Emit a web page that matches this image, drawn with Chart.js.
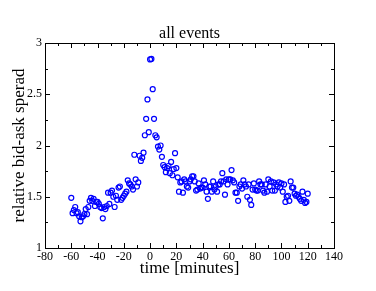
<!DOCTYPE html>
<html>
<head>
<meta charset="utf-8">
<script src="https://cdn.jsdelivr.net/npm/chart.js@4.4.1/dist/chart.umd.min.js"></script>
<style>
  html,body{margin:0;padding:0;background:#fff}
  #wrap{width:376px;height:291px}
</style>
</head>
<body>
<div id="wrap"><canvas id="ch" width="376" height="291"></canvas></div>
<script>
// ===================== DATA =====================
const TITLE='all events';
const X_LABEL='time [minutes]';
const Y_LABEL='relative bid-ask sperad';
const X_MIN=-80, X_MAX=140, X_STEP=20;
const Y_MIN=1, Y_MAX=3, Y_STEP=0.5;

// minutes relative to event
const minutes=[
  -60,-59,-58,-57,-56,-55,-54,-53,-52,-51,
  -50,-49,-48,-47,-46,-45,-44,-43,-42,-41,
  -40,-39,-38,-37,-36,-35,-34,-33,-32,-31,
  -30,-29,-28,-27,-26,-25,-24,-23,-22,-21,
  -20,-19,-18,-17,-16,-15,-14,-13,
  -12,-11,-10,-9,-8,-7,-6,-5,-4,-3,
  -2,-1,0,1,2,3,4,5,6,7,
  8,9,10,11,12,13,14,15,16,17,
  18,19,20,21,22,23,24,25,26,27,
  28,29,30,31,32,33,34,35,36,37,
  38,39,40,41,42,43,44,45,46,47,
  48,49,50,51,52,53,54,55,56,57,
  58,59,60,61,62,63,64,65,66,67,
  68,69,70,71,72,73,74,75,76,77,
  78,79,80,81,82,83,84,85,86,87,
  88,89,90,91,92,93,94,95,96,97,
  98,99,100,101,102,103,104,105,106,107,
  108,109,110,111,112,113,114,115,116,117,
  118,119,120
];
// relative spread
const spread=[
  1.49,1.34,1.37,1.40,1.34,1.35,1.31,1.26,1.30,1.31,
  1.33,1.38,1.33,1.40,1.46,1.49,1.46,1.48,1.41,1.45,
  1.45,1.43,1.40,1.39,1.29,1.40,1.38,1.41,1.54,1.43,
  1.54,1.56,1.50,1.40,1.51,1.47,1.59,1.60,1.47,1.49,
  1.51,1.53,1.55,1.66,1.63,1.62,1.60,1.57,
  1.91,1.67,1.60,1.64,1.90,1.85,1.88,1.93,2.10,2.26,
  2.45,2.13,2.84,2.845,2.55,2.26,2.10,2.08,1.99,1.96,
  2.00,1.89,1.81,1.79,1.74,1.78,1.80,1.73,1.84,1.71,
  1.77,1.925,1.78,1.69,1.55,1.64,1.65,1.54,1.67,1.65,
  1.60,1.59,1.65,1.67,1.70,1.70,1.65,1.56,1.57,1.63,
  1.58,1.59,1.59,1.66,1.62,1.55,1.48,1.60,1.60,1.55,
  1.65,1.57,1.60,1.55,1.62,1.62,1.65,1.73,1.65,1.52,
  1.67,1.62,1.67,1.67,1.76,1.66,1.64,1.54,1.54,1.46,
  1.60,1.62,1.58,1.66,1.62,1.60,1.50,1.62,1.47,1.42,
  1.57,1.63,1.57,1.56,1.56,1.65,1.62,1.62,1.56,1.54,
  1.62,1.55,1.67,1.60,1.65,1.56,1.64,1.56,1.62,1.60,
  1.64,1.59,1.63,1.55,1.62,1.45,1.50,1.51,1.46,1.65,
  1.59,1.59,1.53,1.51,1.52,1.50,1.48,1.46,1.55,1.47,
  1.44,1.45,1.53
];

// ===================== CHART =====================
const FONT='"Liberation Serif","Times New Roman",serif';
const pts=minutes.map((m,i)=>({x:m,y:spread[i]}));

// marco + ticks hacia adentro (estilo grace) + textos
const gracePlugin={
  id:'grace',
  afterDraw(c){
    const ctx=c.ctx, a=c.chartArea, sx=c.scales.x, sy=c.scales.y;
    ctx.save();
    ctx.strokeStyle='#000'; ctx.lineWidth=1;
    ctx.strokeRect(Math.round(a.left)+.5,Math.round(a.top)+.5,Math.round(a.right-a.left),Math.round(a.bottom-a.top));
    ctx.beginPath();
    for(let v=X_MIN;v<=X_MAX+1e-9;v+=X_STEP/2){
      const px=Math.round(sx.getPixelForValue(v))+.5;
      const L=(Math.abs((v-X_MIN)%X_STEP)<1e-9)?5:3;
      ctx.moveTo(px,a.bottom); ctx.lineTo(px,a.bottom-L);
      ctx.moveTo(px,a.top); ctx.lineTo(px,a.top+L);
    }
    for(let v=Y_MIN;v<=Y_MAX+1e-9;v+=Y_STEP/2){
      const py=Math.round(sy.getPixelForValue(v))+.5;
      const L=(Math.abs(((v-Y_MIN)/Y_STEP)-Math.round((v-Y_MIN)/Y_STEP))<1e-9)?5:3;
      ctx.moveTo(a.left,py); ctx.lineTo(a.left+L,py);
      ctx.moveTo(a.right,py); ctx.lineTo(a.right-L,py);
    }
    ctx.stroke();
    // titulos
    ctx.fillStyle='#000';
    const cx=(a.left+a.right)/2, cy=(a.top+a.bottom)/2;
    ctx.textAlign='center'; ctx.textBaseline='alphabetic';
    ctx.font='16px '+FONT;
    ctx.fillText(TITLE,cx,38);
    ctx.font='17px '+FONT;
    ctx.fillText(X_LABEL,cx,273);
    ctx.translate(24,cy); ctx.rotate(-Math.PI/2);
    ctx.fillText(Y_LABEL,0,0);
    ctx.restore();
  }
};

new Chart(document.getElementById('ch'),{
  type:'scatter',
  data:{datasets:[{
    data:pts,
    showLine:false,
    pointStyle:'circle',
    pointRadius:2.5,
    pointBorderWidth:1.2,
    borderColor:'#0000ff',
    backgroundColor:'rgba(0,0,0,0)',
    pointBackgroundColor:'rgba(0,0,0,0)'
  }]},
  options:{
    responsive:false,animation:false,
    layout:{padding:{top:43,right:42,left:0,bottom:0}},
    plugins:{legend:{display:false},tooltip:{enabled:false},title:{display:false}},
    scales:{
      x:{type:'linear',min:X_MIN,max:X_MAX,
        grid:{display:false,drawTicks:false},border:{display:false},
        ticks:{stepSize:X_STEP,autoSkip:false,maxRotation:0,padding:2,color:'#000',font:{family:FONT,size:12}},
        afterFit(s){s.height=43;}},
      y:{type:'linear',min:Y_MIN,max:Y_MAX,
        grid:{display:false,drawTicks:false},border:{display:false},
        ticks:{stepSize:Y_STEP,autoSkip:false,padding:3,color:'#000',font:{family:FONT,size:12},
          callback:v=>String(v)},
        afterFit(s){s.width=45;}}
    }
  },
  plugins:[gracePlugin]
});
</script>
</body>
</html>
